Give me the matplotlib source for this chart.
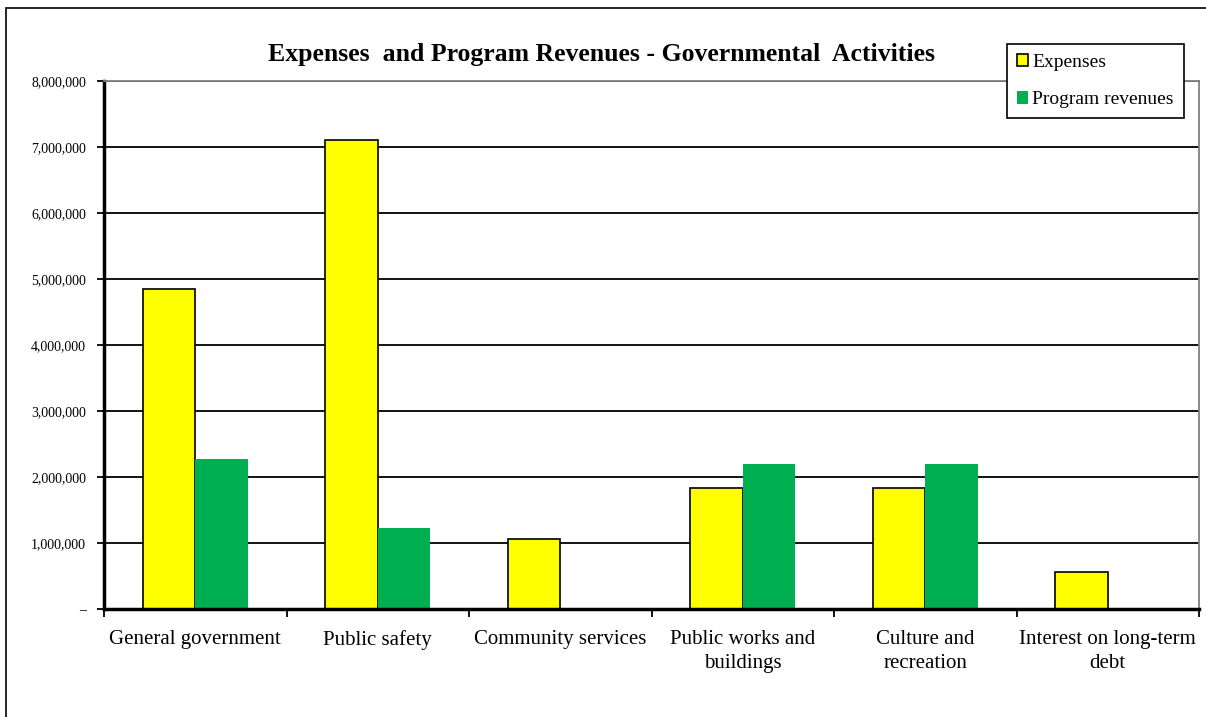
import numpy as np
import matplotlib.pyplot as plt
from matplotlib.patches import Rectangle, Patch
from matplotlib.ticker import FuncFormatter

plt.rcParams['font.family'] = ['Liberation Serif', 'DejaVu Serif']

# data
categories = ['General government', 'Public safety', 'Community services',
              'Public works and\nbuildings', 'Culture and\nrecreation',
              'Interest on long-term\ndebt']
expenses = [4850000, 7100000, 1060000, 1840000, 1840000, 565000]
program_revenues = [2280000, 1220000, 0, 2190000, 2190000, 0]
yticks = [0, 1000000, 2000000, 3000000, 4000000, 5000000, 6000000, 7000000, 8000000]

W, H = 1206, 717
fig = plt.figure(figsize=(W / 100, H / 100), dpi=100)

# outer chart border (runs off the right and bottom of the image)
fig.patches.append(Rectangle((6 / W, -0.1), 1.2, (H - 8) / H + 0.1,
                             transform=fig.transFigure, fill=False,
                             edgecolor='black', lw=1.2))

ax = fig.add_axes([104 / W, 1 - 609 / H, (1199 - 104) / W, (609 - 81) / H])

x = np.arange(len(categories))
bw = 0.288
ax.bar(x - bw / 2, expenses, bw, color='#FFFF00', edgecolor='black', lw=1.2,
       zorder=2)
ax.bar(x + bw / 2, program_revenues, bw, color='#00B050', edgecolor='none',
       zorder=2)

ax.set_xlim(-0.5, len(categories) - 0.5)
ax.set_ylim(0, 8000000)

ax.set_yticks(yticks)
ax.yaxis.set_major_formatter(FuncFormatter(
    lambda v, p: '\u2013' if v == 0 else f'{int(v):,}'))
ax.tick_params(axis='y', direction='out', length=5, width=1.3, pad=8,
               labelsize=10)
ax.yaxis.grid(True, color='black', lw=1.3)
ax.set_axisbelow(True)

ax.set_xticks(x)
ax.set_xticklabels(categories, fontsize=15)
for t in ax.get_xticklabels():
    t.set_linespacing(1.4)
ax.tick_params(axis='x', length=0, pad=15)
ax.set_xticks(np.arange(len(categories) + 1) - 0.5, minor=True)
ax.tick_params(axis='x', which='minor', direction='out', length=6, width=1.3)

for side in ['left', 'bottom']:
    ax.spines[side].set_linewidth(2.5)
    ax.spines[side].set_color('black')
for side in ['top', 'right']:
    ax.spines[side].set_linewidth(1.3)
    ax.spines[side].set_color('#808080')

fig.text(601 / W, 1 - 54 / H,
         'Expenses  and Program Revenues - Governmental  Activities',
         ha='center', va='center', fontsize=18.5, fontweight='bold')

handles = [Patch(facecolor='#FFFF00', edgecolor='black', lw=1.2, label='Expenses'),
           Patch(facecolor='#00B050', edgecolor='none', label='Program revenues')]
leg = fig.legend(handles=handles, loc='upper left',
                 bbox_to_anchor=(1007 / W, 1 - 44 / H), fontsize=14,
                 handlelength=0.6, handleheight=0.6, handletextpad=0.2,
                 labelspacing=1.05, borderaxespad=0, borderpad=0.5,
                 fancybox=False, framealpha=1)
leg.get_frame().set_edgecolor('black')
leg.get_frame().set_linewidth(1.2)

fig.savefig('out.png', dpi=100)
